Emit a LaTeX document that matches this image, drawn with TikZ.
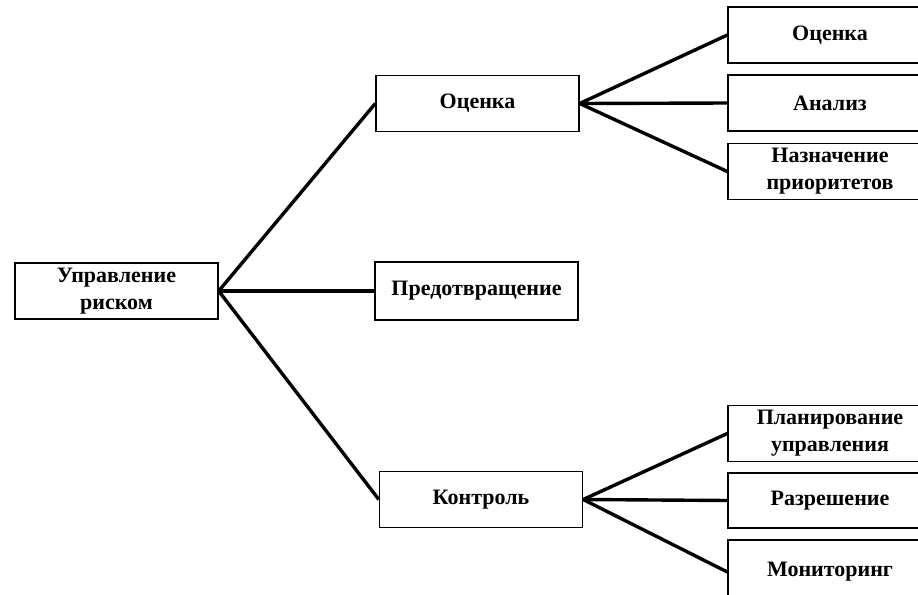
\documentclass[tikz,border=0pt]{standalone}
\usepackage{fontspec}
\setmainfont{Liberation Serif}
\usetikzlibrary{positioning}

\begin{document}
\begin{tikzpicture}[x=0.5pt,y=-0.5pt,
  box/.style={draw,line width=0.7pt,minimum width=101.5pt,minimum height=28pt,inner sep=1pt,
    align=center,font=\bfseries\fontsize{11}{13.5}\selectfont},
  link/.style={line width=1.7pt}]
  \useasboundingbox (0,0) rectangle (918,595);
  \clip (0,0) rectangle (918,595);
  % first level
  \node[box] (root) at (116.5,291) {Управление\\риском};
  \node[box] (ocenka) at (477.5,103.5) {Оценка};
  \node[box,minimum height=29pt] (predotvr) at (476.5,291) {Предотвращение};
  \node[box] (kontrol) at (481,499.5) {Контроль};
  % second level, cut by the right border
  \node[box,minimum width=102pt] (ocenka2) at (830,35) {Оценка};
  \node[box,minimum width=102pt] (analiz) at (830,103) {Анализ};
  \node[box,minimum width=102pt] (naznach) at (830,171.5) {Назначение\\приоритетов};
  \node[box,minimum width=102pt] (plan) at (830,433.5) {Планирование\\управления};
  \node[box,minimum width=102pt,minimum height=27.5pt] (razresh) at (830,500.5) {Разрешение};
  \node[box,minimum width=102pt,minimum height=32pt] (monitor) at (830,572) {Мониторинг};
  \foreach \n in {ocenka,predotvr,kontrol} \draw[link] (root.east)--(\n.west);
  \foreach \n in {ocenka2,analiz,naznach} \draw[link] (ocenka.east)--(\n.west);
  \foreach \n in {plan,razresh,monitor} \draw[link] (kontrol.east)--(\n.west);
\end{tikzpicture}
\end{document}
